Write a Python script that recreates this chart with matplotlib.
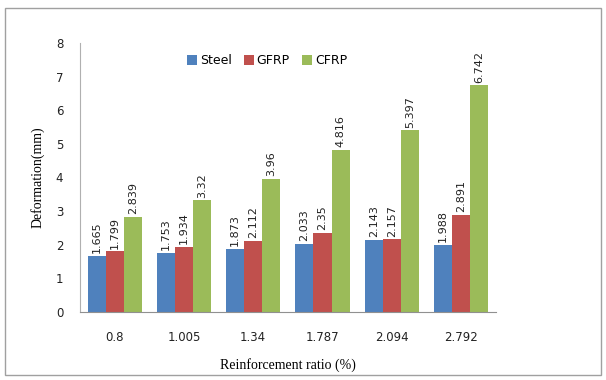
import matplotlib.pyplot as plt
import numpy as np
from matplotlib.patches import Rectangle

ratios = ['0.8', '1.005', '1.34', '1.787', '2.094', '2.792']
steel = [1.665, 1.753, 1.873, 2.033, 2.143, 1.988]
gfrp = [1.799, 1.934, 2.112, 2.35, 2.157, 2.891]
cfrp = [2.839, 3.32, 3.96, 4.816, 5.397, 6.742]

series = [('Steel', steel, '#4F81BD'), ('GFRP', gfrp, '#C0504D'), ('CFRP', cfrp, '#9BBB59')]

fig = plt.figure(figsize=(6.06, 3.8), dpi=100)
fig.patches.append(Rectangle((0.008, 0.013), 0.983, 0.966, transform=fig.transFigure,
                             fill=False, edgecolor='#a0a0a0', linewidth=1))
ax = fig.add_axes([0.132, 0.179, 0.686, 0.708])

x = np.arange(len(ratios))
w = 0.26
for i, (name, vals, color) in enumerate(series):
    pos = x + (i - 1) * w
    ax.bar(pos, vals, w, color=color, label=name)
    for p, v in zip(pos, vals):
        ax.text(p, v + 0.08, f'{v:g}', rotation=90, ha='center', va='bottom',
                fontsize=8, color='#222222')

ax.set_xlim(-0.5, len(ratios) - 0.5)
ax.set_ylim(0, 8)
ax.set_yticks(range(0, 9))
ax.set_xticks(x)
ax.set_xticklabels(ratios)
ax.tick_params(axis='both', length=0, labelsize=8.5, colors='#222222')
ax.tick_params(axis='x', pad=14)
ax.tick_params(axis='y', pad=12)
for s in ['top', 'right']:
    ax.spines[s].set_visible(False)
ax.spines['left'].set_color('#b0b0b0')
ax.spines['bottom'].set_color('#909090')

ax.set_xlabel('Reinforcement ratio (%)', family='Liberation Serif', fontsize=10, labelpad=10)
ax.set_ylabel('Deformation(mm)', family='Liberation Serif', fontsize=10, labelpad=8)

ax.legend(loc='upper center', bbox_to_anchor=(0.45, 1.0), ncol=3, frameon=False,
          fontsize=9, handlelength=0.8, handleheight=0.8, columnspacing=1.0,
          handletextpad=0.2)

fig.savefig('out.png', dpi=100)
